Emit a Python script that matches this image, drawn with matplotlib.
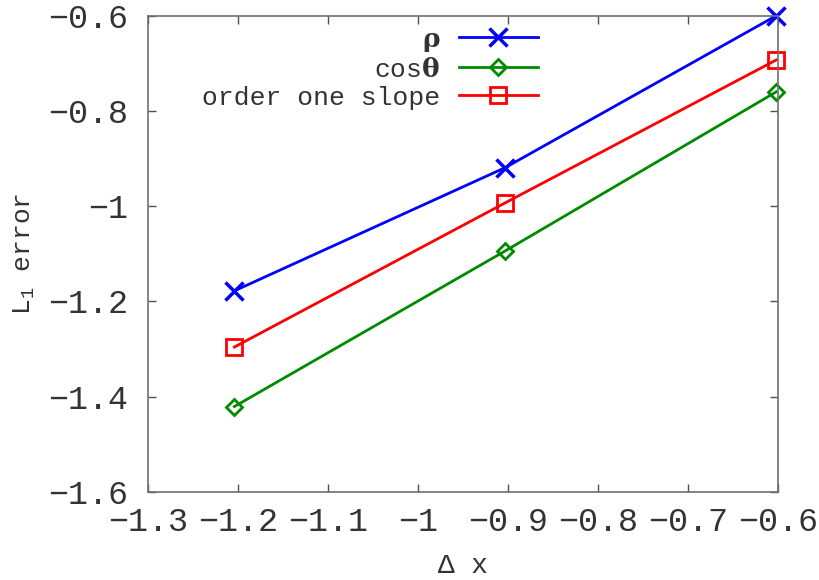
import matplotlib
matplotlib.use("Agg")
import matplotlib.pyplot as plt

plt.rcParams['font.family'] = ['Liberation Mono', 'DejaVu Sans']
plt.rcParams['mathtext.fontset'] = 'custom'
plt.rcParams['mathtext.rm'] = 'Liberation Mono'
plt.rcParams['mathtext.it'] = 'Liberation Mono'
plt.rcParams['mathtext.bf'] = 'DejaVu Serif:bold'

# log10 of grid spacing
dx = [-1.204, -0.903, -0.602]
rho_err = [-1.178, -0.919, -0.600]
cos_err = [-1.421, -1.094, -0.760]
slope_one = [-1.296, -0.993, -0.693]

xticks = [-1.3, -1.2, -1.1, -1.0, -0.9, -0.8, -0.7, -0.6]
xticklabels = ['\u22121.3', '\u22121.2', '\u22121.1', '\u22121', '\u22120.9', '\u22120.8', '\u22120.7', '\u22120.6']
yticks = [-1.6, -1.4, -1.2, -1.0, -0.8, -0.6]
yticklabels = ['\u22121.6', '\u22121.4', '\u22121.2', '\u22121', '\u22120.8', '\u22120.6']

fig = plt.figure(figsize=(8.2, 5.8), dpi=100)
ax = fig.add_axes([0.1805, 0.1522, 0.7683, 0.8207])

ax.plot(dx, rho_err, color='#0000ff', lw=2, marker='x', ms=13, mew=2.5,
        label=r'$\mathbf{\rho}$', clip_on=False)
ax.plot(dx, cos_err, color='#008a00', lw=2, marker='D', ms=8, mew=2, mfc='none',
        label=r'cos$\mathbf{\theta}$', clip_on=False)
ax.plot(dx, slope_one, color='#ff0000', lw=2, marker='s', ms=12, mew=2, mfc='none',
        label='order one slope', clip_on=False)

ax.set_xlim(-1.3, -0.6)
ax.set_ylim(-1.6, -0.6)
ax.set_xticks(xticks)
ax.set_xticklabels(xticklabels)
ax.set_yticks(yticks)
ax.set_yticklabels(yticklabels)
ax.tick_params(direction='in', top=True, right=True, length=6, width=1,
               color='#505050', labelsize=24, labelcolor='#333333')
ax.tick_params(axis='y', pad=14)
ax.tick_params(axis='x', pad=11)
for sp in ax.spines.values():
    sp.set_color('#707070')
    sp.set_linewidth(1.2)

ax.set_xlabel('\u0394 x', fontsize=20, color='#333333', labelpad=11)
ax.set_ylabel(r'L$_1$ error', fontsize=19, color='#333333', labelpad=8)

leg = ax.legend(loc='upper right', bbox_to_anchor=(0.619, 0.975), frameon=False,
                markerfirst=False, fontsize=19, handlelength=3.0, handletextpad=0.7,
                labelspacing=0.15, borderpad=0, borderaxespad=0)
for t in leg.get_texts():
    t.set_color('#333333')

fig.savefig('out.png', dpi=100)
